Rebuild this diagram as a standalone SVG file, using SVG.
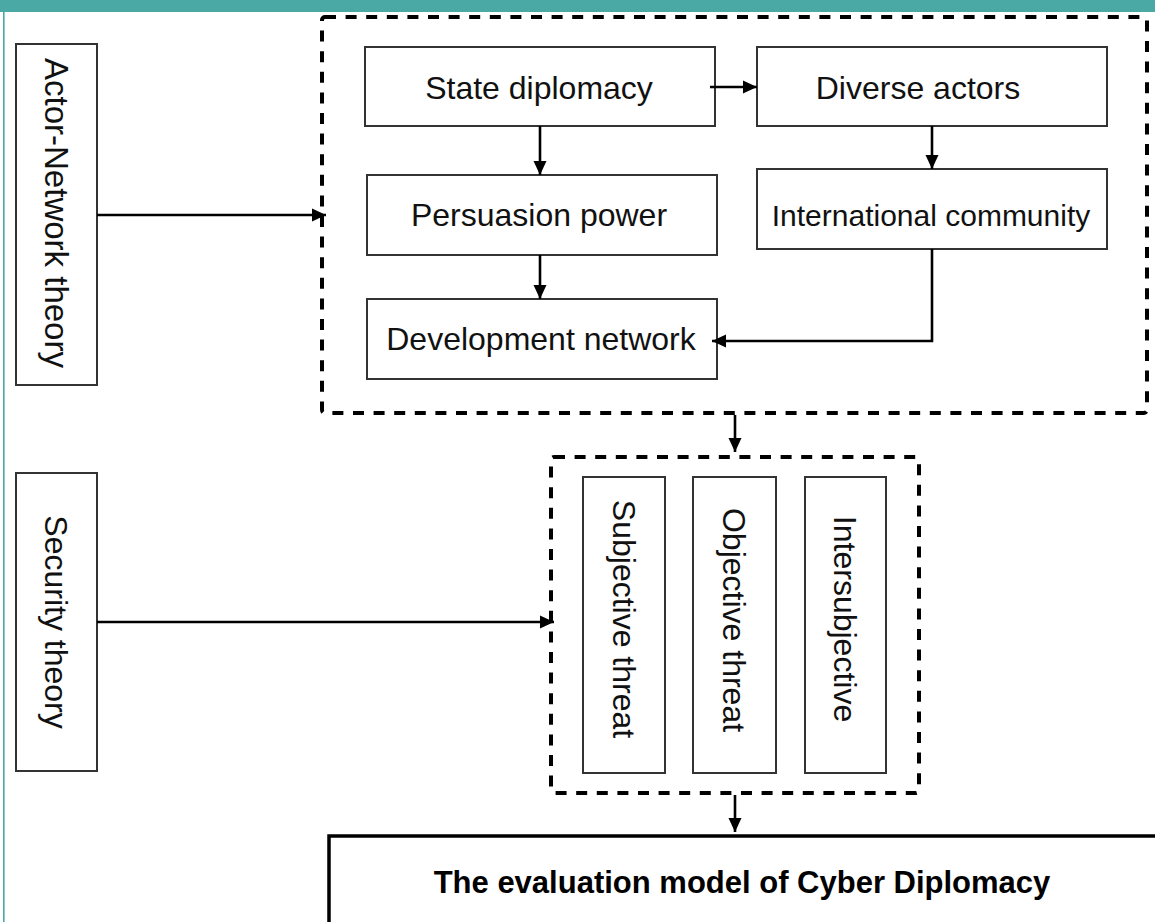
<svg xmlns="http://www.w3.org/2000/svg" width="1155" height="922" viewBox="0 0 1155 922">
<style>
.box{fill:#fff;stroke:#333;stroke-width:2}
.dash{fill:none;stroke:#000;stroke-width:4;stroke-dasharray:11 9.6}
.t{font-family:"Liberation Sans",Arial,sans-serif;font-size:32px;fill:#111;text-anchor:middle}
.conn path{fill:none;stroke:#000;stroke-width:2.6}
</style>
<defs>
<marker id="ah" markerUnits="userSpaceOnUse" markerWidth="16" markerHeight="16" viewBox="0 0 16 16" refX="14" refY="8" orient="auto">
<path d="M0,1.5 L14,8 L0,14.5 Z" fill="#000"/>
</marker>
</defs>
<rect x="0" y="0" width="1155" height="922" fill="#fff"/>
<rect x="0" y="0" width="1155" height="12" fill="#4aa9a4"/>
<rect x="3" y="12" width="1.6" height="910" fill="#4aa9a4"/>

<g id="group-actor-network"><rect class="dash" x="322" y="17" width="825" height="396" rx="3"/></g>
<g id="group-security"><rect class="dash" x="551" y="457" width="368" height="336" rx="3"/></g>

<g id="actor-network-theory"><rect class="box" x="16" y="44" width="81" height="341"/>
<text class="t" transform="translate(45,213) rotate(90)" style="font-size:33px">Actor-Network theory</text></g>
<g id="security-theory"><rect class="box" x="16" y="473" width="81" height="298"/>
<text class="t" transform="translate(45,622) rotate(90)">Security theory</text></g>

<g id="state-diplomacy"><rect class="box" x="365" y="47" width="350" height="79"/>
<text class="t" x="539" y="99">State diplomacy</text></g>
<g id="diverse-actors"><rect class="box" x="757" y="47" width="350" height="79"/>
<text class="t" x="918" y="99">Diverse actors</text></g>
<g id="persuasion-power"><rect class="box" x="367" y="175" width="350" height="80"/>
<text class="t" x="539" y="226">Persuasion power</text></g>
<g id="international-community"><rect class="box" x="757" y="169" width="350" height="80"/>
<text class="t" x="931" y="226" style="font-size:30px">International community</text></g>
<g id="development-network"><rect class="box" x="367" y="299" width="350" height="80"/>
<text class="t" x="541" y="350">Development network</text></g>

<g id="subjective-threat"><rect class="box" x="583" y="477" width="82" height="296"/>
<text class="t" transform="translate(613,619) rotate(90)">Subjective threat</text></g>
<g id="objective-threat"><rect class="box" x="693" y="477" width="83" height="296"/>
<text class="t" transform="translate(723,620) rotate(90)">Objective threat</text></g>
<g id="intersubjective"><rect class="box" x="805" y="477" width="81" height="296"/>
<text class="t" transform="translate(834,619) rotate(90)">Intersubjective</text></g>

<g id="evaluation-model"><rect x="329" y="836" width="840" height="100" fill="#fff" stroke="#000" stroke-width="3.5"/>
<text class="t" x="742" y="893" style="font-size:31px;font-weight:bold;fill:#000">The evaluation model of Cyber Diplomacy</text></g>

<g id="connectors" class="conn">
<path d="M710,87 H757" marker-end="url(#ah)"/>
<path d="M540,126 V175" marker-end="url(#ah)"/>
<path d="M540,255 V299" marker-end="url(#ah)"/>
<path d="M932,126 V169" marker-end="url(#ah)"/>
<path d="M932,249 V341 H712" marker-end="url(#ah)"/>
<path d="M97,215 H326" marker-end="url(#ah)"/>
<path d="M735,415 V452" marker-end="url(#ah)"/>
<path d="M97,622 H554" marker-end="url(#ah)"/>
<path d="M735,795 V832" marker-end="url(#ah)"/>
</g>
</svg>
